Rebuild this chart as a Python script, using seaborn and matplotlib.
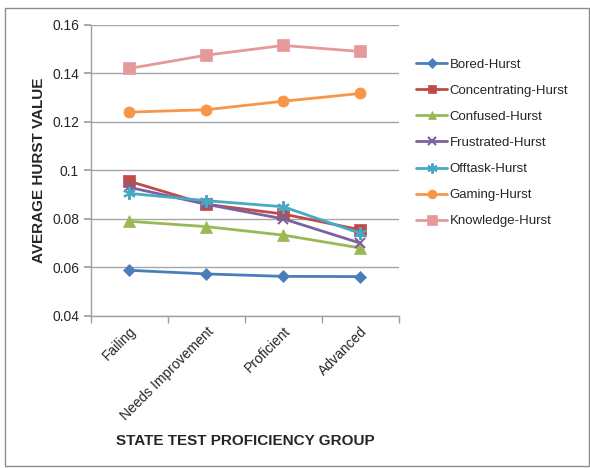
import matplotlib.pyplot as plt
import pandas as pd
import seaborn as sns
from matplotlib.ticker import FixedLocator

sns.set_theme(style="white")
plt.rcParams["font.family"] = ["Liberation Sans", "DejaVu Sans"]

groups = ["Failing", "Needs Improvement", "Proficient", "Advanced"]
series = [
    "Bored-Hurst", "Concentrating-Hurst", "Confused-Hurst", "Frustrated-Hurst",
    "Offtask-Hurst", "Gaming-Hurst", "Knowledge-Hurst",
]
bored = [0.0588, 0.0573, 0.0563, 0.0562]
concentrating = [0.0955, 0.0860, 0.0820, 0.0755]
confused = [0.0790, 0.0768, 0.0733, 0.0680]
frustrated = [0.0930, 0.0860, 0.0800, 0.0700]
offtask = [0.0905, 0.0875, 0.0850, 0.0740]
gaming = [0.1240, 0.1250, 0.1285, 0.1317]
knowledge = [0.1420, 0.1475, 0.1515, 0.1490]

values = [bored, concentrating, confused, frustrated, offtask, gaming, knowledge]
rows = []
for name, vals in zip(series, values):
    for g, v in zip(groups, vals):
        rows.append({"group": g, "series": name, "value": v})
df = pd.DataFrame(rows)

colors = ["#4A7EBB", "#BE4B48", "#98B954", "#7D60A0", "#46AAC5", "#F79646", "#E6999A"]
markers = ["D", "s", "^", "x", (6, 2, 0), "o", "s"]
sizes = [6, 8, 8, 7, 9, 8, 9]

fig = plt.figure(figsize=(5.9, 4.68), dpi=100)
ax = fig.add_axes([0.154, 0.325, 0.522, 0.622])

for name, c, m, s in zip(series, colors, markers, sizes):
    sub = df[df["series"] == name]
    sns.lineplot(data=sub, x="group", y="value", color=c, marker=m, markersize=s,
                 linewidth=2, markeredgecolor=c, markeredgewidth=1.5 if m in ("x", (6, 2, 0)) else 0.5,
                 label=name, ax=ax, sort=False)

ax.set_xlim(-0.5, 3.5)
ax.set_ylim(0.04, 0.16)
ax.set_yticks([0.04, 0.06, 0.08, 0.1, 0.12, 0.14, 0.16])
ax.set_yticklabels(["0.04", "0.06", "0.08", "0.1", "0.12", "0.14", "0.16"], fontsize=10)
ax.set_xticks(range(len(groups)))
ax.set_xticklabels(groups, rotation=45, ha="right", rotation_mode="anchor", fontsize=10)
ax.xaxis.set_minor_locator(FixedLocator([-0.5, 0.5, 1.5, 2.5, 3.5]))
ax.tick_params(axis="x", which="major", length=0, pad=6)
ax.tick_params(axis="x", which="minor", length=5, color="#A0A0A0", bottom=True)
ax.tick_params(axis="y", length=5, color="#A0A0A0", left=True)
ax.grid(axis="y", color="#A6A6A6", linewidth=1)
for side in ["top", "right"]:
    ax.spines[side].set_visible(False)
for side in ["left", "bottom"]:
    ax.spines[side].set_color("#A0A0A0")
    ax.spines[side].set_linewidth(1)
ax.set_xlabel("STATE TEST PROFICIENCY GROUP", fontsize=11, fontweight="bold", labelpad=8)
ax.set_ylabel("AVERAGE HURST VALUE", fontsize=11, fontweight="bold")

ax.legend(loc="upper left", bbox_to_anchor=(1.04, 0.902), frameon=False, fontsize=9.5,
          handlelength=2.3, labelspacing=1.05, handletextpad=0.2, borderaxespad=0,
          markerscale=0.8)

fig.patches.append(plt.Rectangle((0.008, 0.005), 0.99, 0.977, transform=fig.transFigure,
                                 fill=False, edgecolor="#8C8C8C", linewidth=1))
fig.savefig("out.png", dpi=100)
